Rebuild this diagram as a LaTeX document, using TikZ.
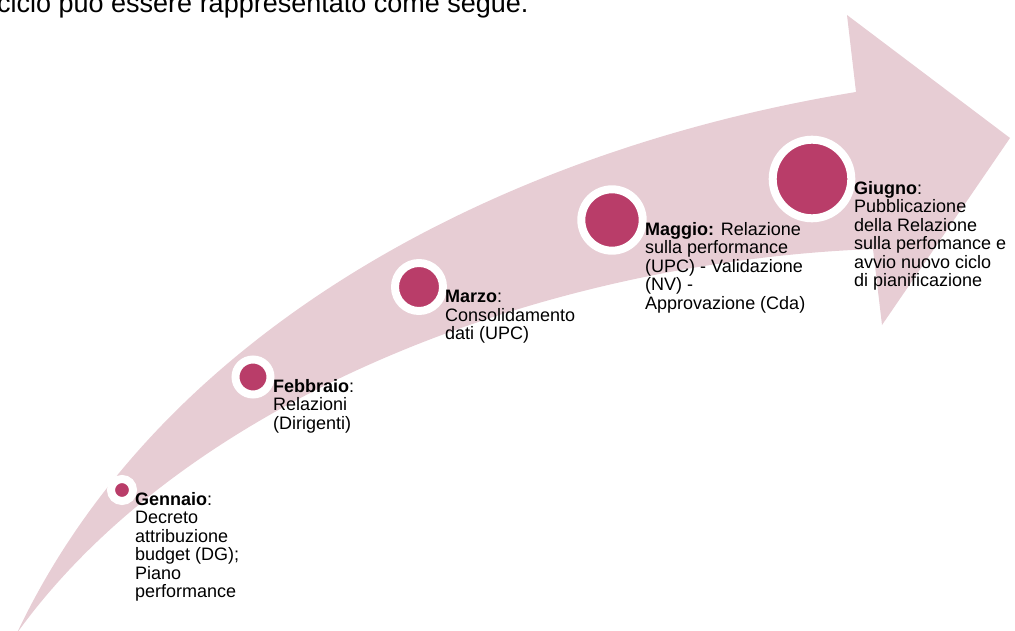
\documentclass[tikz,border=0pt]{standalone}
\usepackage{fontspec}
\setmainfont{Liberation Sans}
\definecolor{band}{HTML}{E7CDD4}
\definecolor{dot}{HTML}{B93D69}
\begin{document}
\begin{tikzpicture}[x=1pt,y=-1pt,
  milestone/.style={circle, draw=white, fill=dot, inner sep=0pt},
  lbl/.style={anchor=north west, inner sep=0pt, align=left, text=black,
    font=\fontsize{18}{18.5}\selectfont}]
\useasboundingbox (0,0) rectangle (1015,631);
\begin{scope}
\clip (0,0) rectangle (1015,631);
\fill[band] (17,633) .. controls (160,330) and (500,150) .. (856,92)
  -- (847,15) -- (1010,138) -- (882,325) -- (873,249)
  .. controls (540,262) and (185,400) .. (17,633) -- cycle;
\node[anchor=base west, inner sep=0pt, font=\fontsize{27}{31}\selectfont] (intro) at (-3,12.5) {ciclo può essere rappresentato come segue.};
\end{scope}
\node[milestone, line width=8pt, minimum size=22pt] (gen) at (122,490) {};
\node[milestone, line width=8pt, minimum size=35pt] (feb) at (253,377) {};
\node[milestone, line width=8pt, minimum size=48pt] (mar) at (419,287) {};
\node[milestone, line width=8pt, minimum size=61.4pt] (mag) at (612,220) {};
\node[milestone, line width=8pt, minimum size=78.6pt] (giu) at (812,179) {};
\node[lbl] (gentxt) at (135,492) {\textbf{Gennaio}:\\Decreto\\attribuzione\\budget (DG);\\Piano\\performance};
\node[lbl] (febtxt) at (273,379) {\textbf{Febbraio}:\\Relazioni\\(Dirigenti)};
\node[lbl] (martxt) at (445,290) {\textbf{Marzo}:\\Consolidamento\\dati (UPC)};
\node[lbl] (magtxt) at (645,222) {\textbf{Maggio:} Relazione\\sulla performance\\(UPC) - Validazione\\(NV) -\\Approvazione (Cda)};
\node[lbl] (giutxt) at (854,181) {\textbf{Giugno}:\\Pubblicazione\\della Relazione\\sulla perfomance e\\avvio nuovo ciclo\\di pianificazione};
\end{tikzpicture}
\end{document}
